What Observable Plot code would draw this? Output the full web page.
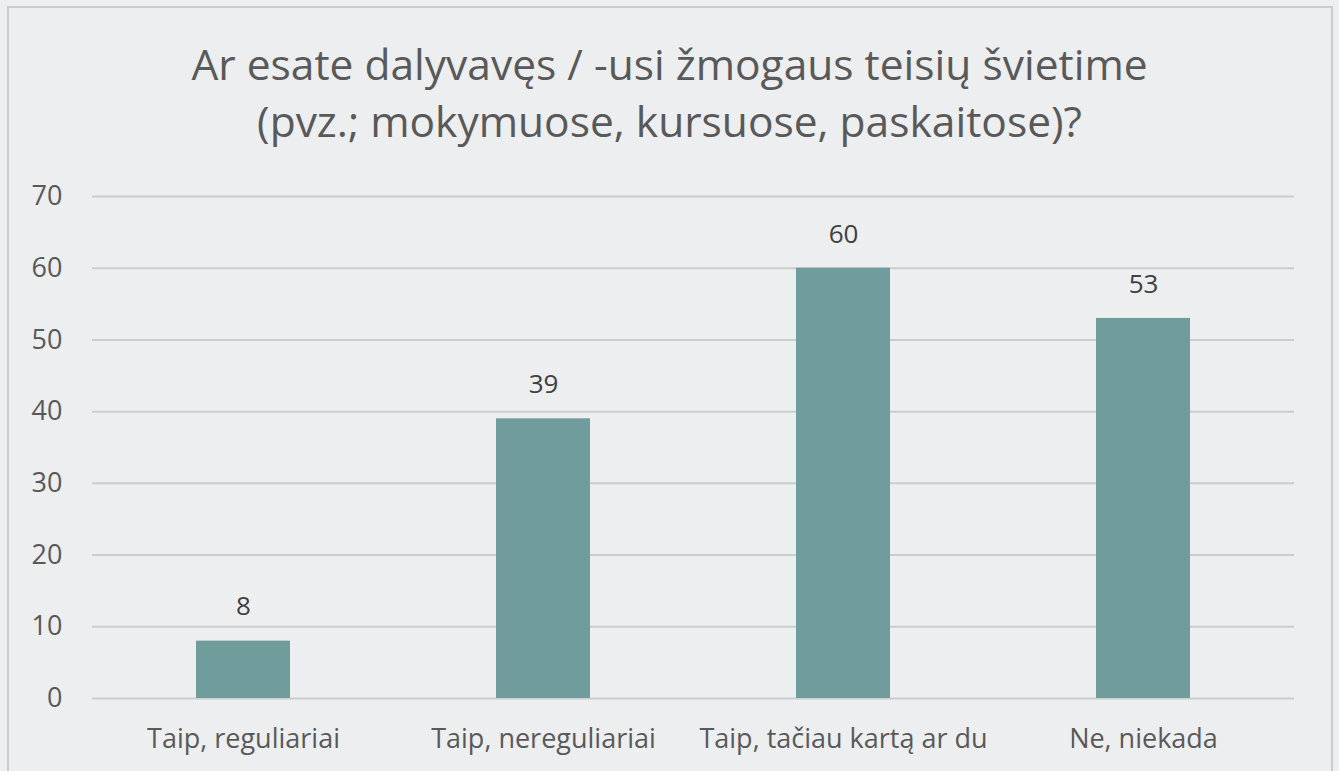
<!DOCTYPE html>
<html>
<head>
<meta charset="utf-8">
<script src="https://cdn.jsdelivr.net/npm/d3@7"></script>
<script src="https://cdn.jsdelivr.net/npm/@observablehq/plot@0.6"></script>
<style>
  html, body { margin: 0; padding: 0; background: #edeef0; width: 1339px; height: 771px; overflow: hidden; }
  #frame { position: absolute; left: 7px; top: 6px; width: 1326px; height: 800px; border: 2px solid #cbcccd; border-bottom: none; box-sizing: border-box; }
  #title { position: absolute; left: 0; top: 35px; width: 1339px; text-align: center; font-family: "Open Sans", sans-serif; font-size: 42.5px; line-height: 57px; color: #595959; }
  #chart { position: absolute; left: 0; top: 150px; }
</style>
</head>
<body>
<div id="frame"></div>
<div id="title">Ar esate dalyvavęs / -usi žmogaus teisių švietime<br>(pvz.; mokymuose, kursuose, paskaitose)?</div>
<div id="chart"></div>
<script>
const categories = ["Taip, reguliariai", "Taip, nereguliariai", "Taip, tačiau kartą ar du", "Ne, niekada"];
const values = [8, 39, 60, 53];
const yTicks = [0, 10, 20, 30, 40, 50, 60, 70];

const data = categories.map((c, i) => ({category: c, value: values[i]}));

const chart = Plot.plot({
  width: 1339,
  height: 618,
  marginLeft: 92,
  marginRight: 45,
  marginTop: 46,
  marginBottom: 70,
  style: { background: "transparent", fontFamily: "Open Sans, sans-serif", fontSize: "27px", color: "#595959" },
  x: { domain: categories, paddingInner: 0.687, paddingOuter: 0.3435, label: null, tickSize: 0, tickPadding: 30 },
  y: { domain: [0, 70], ticks: yTicks, label: null, tickSize: 0, tickPadding: 30 },
  marks: [
    Plot.gridY(yTicks, { stroke: "#cbcccd", strokeWidth: 2, strokeOpacity: 1 }),
    Plot.barY(data, { x: "category", y: "value", fill: "#709c9c" }),
    Plot.text(data, { x: "category", y: "value", text: d => String(d.value), dy: -34, fill: "#404040", fontSize: 26 })
  ]
});
document.getElementById("chart").appendChild(chart);
</script>
</body>
</html>
